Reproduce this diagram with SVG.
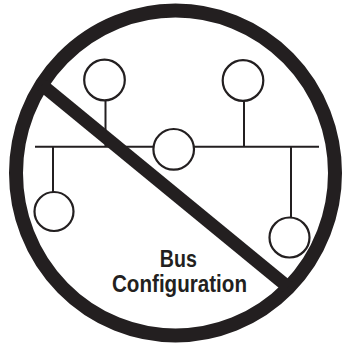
<svg xmlns="http://www.w3.org/2000/svg" width="344" height="346" viewBox="0 0 344 346">
<style>
.thin{stroke:#231f20;stroke-width:2;fill:none}
.node{stroke:#231f20;stroke-width:2.2;fill:#fff}
.lbl{font-family:"Liberation Sans",Arial,sans-serif;font-weight:bold;font-size:23px;fill:#231f20;text-anchor:middle}
</style>
<rect width="344" height="346" fill="#fff"/>
<g id="connectors">
<line class="thin" x1="35" y1="146.7" x2="319" y2="146.7"/>
<line class="thin" x1="105.5" y1="100" x2="105.5" y2="146.7"/>
<line class="thin" x1="244" y1="100" x2="244" y2="146.7"/>
<line class="thin" x1="53" y1="146.7" x2="53" y2="192"/>
<line class="thin" x1="291" y1="146.7" x2="291" y2="217"/>
</g>
<g id="node-top-left"><circle class="node" cx="104.5" cy="80" r="20.3"/></g>
<g id="node-top-right"><circle class="node" cx="243" cy="80.5" r="20.3"/></g>
<g id="node-center"><circle class="node" cx="173.7" cy="149.3" r="20.3"/></g>
<g id="node-bottom-left"><circle class="node" cx="54" cy="211.5" r="19.5"/></g>
<g id="node-bottom-right"><circle class="node" cx="289.5" cy="237.5" r="20"/></g>
<g id="prohibition">
<ellipse cx="175.5" cy="173" rx="159.5" ry="162.5" fill="none" stroke="#231f20" stroke-width="14"/>
<line x1="42" y1="85" x2="288" y2="287" stroke="#231f20" stroke-width="13"/>
</g>
<g id="label">
<text class="lbl" x="178.3" y="266.7" textLength="37" lengthAdjust="spacingAndGlyphs">Bus</text>
<text class="lbl" x="179.5" y="292" textLength="135" lengthAdjust="spacingAndGlyphs">Configuration</text>
</g>
</svg>
